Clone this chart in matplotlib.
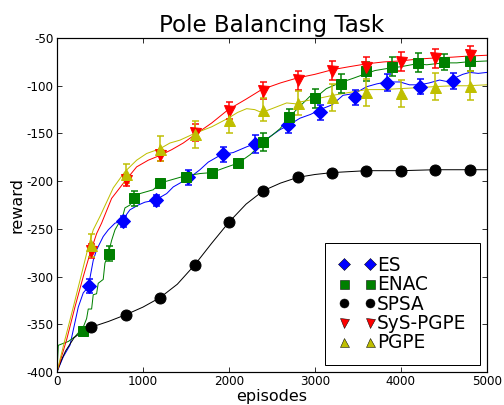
import matplotlib
matplotlib.use("Agg")
import matplotlib.pyplot as plt
from matplotlib.lines import Line2D

plt.rcParams["axes.unicode_minus"] = False

# ── data ──────────────────────────────────────────────────────────────────────

# continuous learning curves
es_line_x = [0, 74, 151, 190, 248, 306, 364, 422, 461, 538, 597, 675, 752, 849, 946, 1023,
             1140, 1276, 1353, 1450, 1547, 1663, 1760, 1915, 2050, 2206, 2322, 2450, 2594,
             2700, 2826, 2950, 3058, 3200, 3327, 3465, 3602, 3720, 3834, 3989, 4100, 4222,
             4330, 4450, 4560, 4645, 4720, 4800, 4900, 5000]
es_line_y = [-400, -384, -372, -356, -332, -317, -311, -283, -272, -258, -251, -244, -242,
             -230, -225, -222, -220, -213, -206, -201, -196, -188, -180, -172, -170, -164,
             -160, -155, -146, -141, -134, -130, -125, -120, -110, -108, -101, -98, -96,
             -96, -99, -99, -97, -94, -96, -91, -88, -86, -87, -86]

enac_line_x = [0, 16, 132, 209, 306, 345, 364, 403, 422, 461, 480, 538, 558, 597, 636, 675,
               713, 752, 791, 849, 888, 965, 1120, 1198, 1314, 1469, 1663, 1798, 1950, 2109,
               2250, 2400, 2500, 2594, 2710, 2820, 2943, 3000, 3133, 3288, 3450, 3602, 3700,
               3834, 4000, 4183, 4300, 4494, 4650, 4765, 5000]
enac_line_y = [-400, -372, -368, -363, -353, -344, -334, -334, -319, -318, -307, -303, -286,
               -276, -262, -251, -245, -241, -228, -225, -218, -213, -209, -202, -199, -195,
               -192, -191, -186, -181, -172, -159, -152, -145, -132, -122, -111, -113, -103,
               -97, -92, -87, -84, -82, -80, -77, -78, -76, -76, -75, -74]

spsa_line_x = [0, 50, 100, 200, 300, 400, 600, 800, 1000, 1200, 1400, 1600, 1800, 2000,
               2200, 2400, 2600, 2800, 3000, 3200, 3600, 4000, 4400, 4800, 5000]
spsa_line_y = [-400, -388, -378, -364, -357, -353, -347, -340, -332, -322, -308, -288, -265,
               -243, -224, -210, -202, -196, -193, -191, -189, -189, -188, -188, -188]

sys_line_x = [0, 113, 209, 306, 384, 461, 519, 636, 791, 927, 1062, 1198, 1334, 1469, 1593,
              1800, 1992, 2200, 2380, 2600, 2788, 3000, 3210, 3400, 3602, 3800, 3989, 4200,
              4373, 4600, 4765, 5000]
sys_line_y = [-400, -366, -332, -300, -276, -255, -244, -218, -200, -185, -178, -173, -167,
              -160, -152, -139, -125, -114, -104, -97, -92, -88, -83, -80, -77, -75, -74,
              -72, -71, -70, -69, -68]

pgpe_line_x = [0, 93, 190, 287, 364, 422, 500, 655, 791, 927, 1043, 1198, 1314, 1430, 1600,
               1800, 1992, 2100, 2206, 2300, 2380, 2500, 2671, 2788, 2826, 3000, 3210, 3400,
               3602, 3800, 3989, 4200, 4373, 4600, 4765, 5000]
pgpe_line_y = [-400, -366, -332, -297, -269, -251, -237, -207, -190, -178, -171, -166, -160,
               -157, -150, -143, -134, -128, -124, -125, -128, -124, -118, -119, -117, -114,
               -110, -107, -104, -104, -103, -102, -101, -100, -100, -99]

# markers with error bars
es_x = [376, 767, 1151, 1523, 1930, 2302, 2686, 3058, 3465, 3837, 4221, 4605]
es_y = [-310, -242, -220, -196, -172, -161, -141, -128, -112, -97, -101, -95]
es_err = [7, 6, 6, 8, 8, 9, 8, 8, 8, 9, 8, 8]

enac_x = [300, 600, 900, 1200, 1500, 1800, 2100, 2400, 2700, 3000, 3300, 3600, 3900, 4200,
          4500, 4800]
enac_y = [-357, -276, -218, -202, -196, -191, -181, -159, -133, -113, -98, -85, -80, -76,
          -75, -74]
enac_err = [4, 8, 8, 4, 4, 3, 4, 9, 9, 10, 10, 10, 10, 10, 8, 10]

spsa_x = [400, 800, 1200, 1600, 2000, 2400, 2800, 3200, 3600, 4000, 4400, 4800]
spsa_y = [-353, -340, -322, -288, -243, -210, -196, -191, -189, -189, -188, -188]
spsa_err = [1, 1, 1, 1, 1, 1, 1, 1, 1, 1, 1, 1]

sys_x = [400, 800, 1200, 1600, 2000, 2400, 2800, 3200, 3600, 4000, 4400, 4800]
sys_y = [-273, -199, -173, -149, -126, -105, -94, -84, -80, -75, -71, -68]
sys_err = [7, 6, 6, 9, 9, 9, 10, 10, 10, 10, 10, 10]

pgpe_x = [400, 800, 1200, 1600, 2000, 2400, 2800, 3200, 3600, 4000, 4400, 4800]
pgpe_y = [-267, -192, -166, -151, -136, -125, -118, -112, -107, -108, -101, -100]
pgpe_err = [12, 10, 13, 14, 13, 12, 13, 14, 14, 14, 14, 15]

labels = ["ES", "ENAC", "SPSA", "SyS-PGPE", "PGPE"]

# ── plot ──────────────────────────────────────────────────────────────────────

series = [
    (es_line_x, es_line_y, es_x, es_y, es_err, "#0000ff", "D", 10),
    (enac_line_x, enac_line_y, enac_x, enac_y, enac_err, "#008000", "s", 10),
    (spsa_line_x, spsa_line_y, spsa_x, spsa_y, spsa_err, "#000000", "o", 11),
    (sys_line_x, sys_line_y, sys_x, sys_y, sys_err, "#ff0000", "v", 11),
    (pgpe_line_x, pgpe_line_y, pgpe_x, pgpe_y, pgpe_err, "#bfbf00", "^", 11),
]

fig = plt.figure(figsize=(7, 5.625), dpi=72)
ax = fig.add_axes([0.113, 0.0815, 0.853, 0.8245])

for lx, ly, mx, my, me, col, mk, ms in series:
    ax.plot(lx, ly, color=col, linewidth=1.0, zorder=2)

handles = []
for (lx, ly, mx, my, me, col, mk, ms), lab in zip(series, labels):
    ax.errorbar(mx, my, yerr=me, fmt=mk, color=col, ecolor=col, mec=col, ms=ms,
                capsize=3.5, elinewidth=1.5, capthick=1.5, zorder=3)
    handles.append(Line2D([], [], linestyle="none", marker=mk, color=col, mec="k",
                          mew=0.5, ms=9, label=lab))

ax.set_xlim(0, 5000)
ax.set_ylim(-400, -50)
ax.set_xticks(range(0, 5001, 1000))
ax.set_yticks(range(-400, -49, 50))
ax.tick_params(direction="in", top=True, right=True, length=5, labelsize=12)
for sp in ax.spines.values():
    sp.set_linewidth(1.2)

ax.set_title("Pole Balancing Task", fontsize=23, pad=6)
ax.set_xlabel("episodes", fontsize=16, labelpad=1)
ax.set_ylabel("reward", fontsize=16, labelpad=2)

ax.legend(handles=handles, numpoints=2, loc="lower right", bbox_to_anchor=(0.983, 0.02),
          borderaxespad=0, fontsize=18.5, fancybox=False, edgecolor="black",
          handlelength=2.0, handletextpad=0.1, labelspacing=0.02, borderpad=0.7,
          framealpha=1)

fig.savefig("out.png", dpi=72)
